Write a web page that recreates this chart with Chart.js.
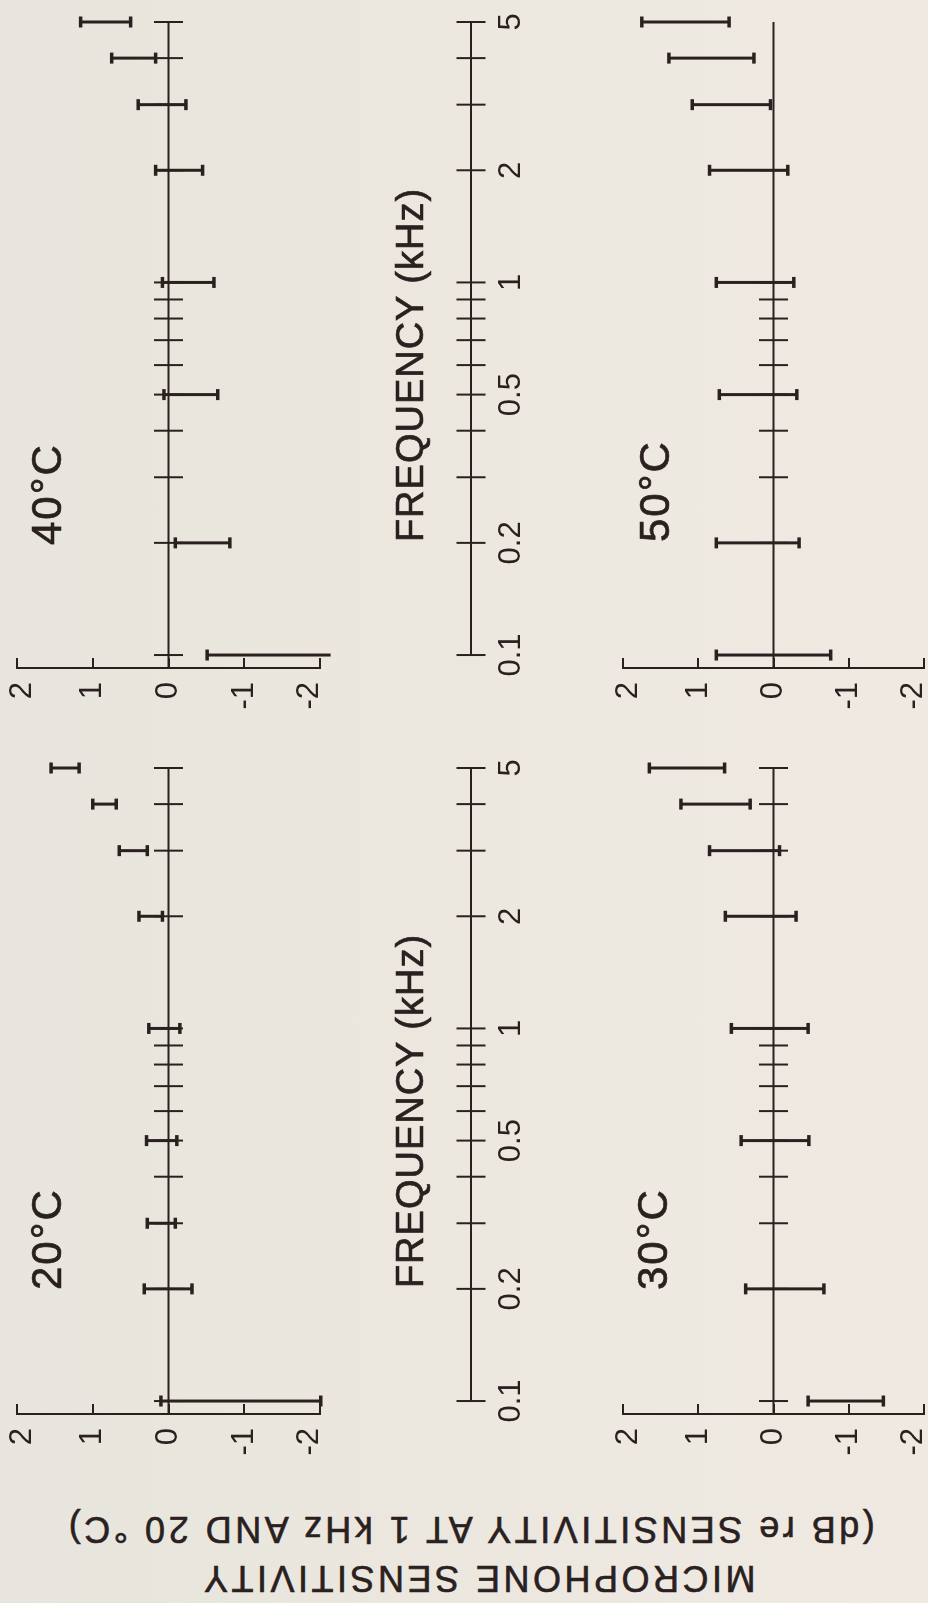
<!DOCTYPE html>
<html>
<head>
<meta charset="utf-8">
<title>Microphone sensitivity vs frequency</title>
<script src="https://cdn.jsdelivr.net/npm/chart.js@4.4.1/dist/chart.umd.min.js"></script>
<style>
  html, body { margin: 0; padding: 0; }
  body {
    width: 928px; height: 1603px; overflow: hidden; position: relative;
    background: linear-gradient(90deg, #e7e5dd 0%, #ebe7df 40%, #efe9e2 100%);
    font-family: 'Liberation Sans', Arial, sans-serif; color: #2a2020;
  }
  /* figure is laid out upright, then turned a quarter turn like the scan */
  #fig {
    position: absolute; left: 0; top: 0; width: 1603px; height: 928px;
    transform-origin: 0 0; transform: translate(0, 1603px) rotate(-90deg);
  }
  .box { position: absolute; }
  .lbl {
    position: absolute; font-size: 42px; line-height: 42px; letter-spacing: 2px;
    white-space: nowrap; -webkit-text-stroke: 0.7px #2a2020;
  }
  .ftitle {
    position: absolute; width: 420px; text-align: center; font-size: 38px; line-height: 38px;
    letter-spacing: 1px; white-space: nowrap; -webkit-text-stroke: 0.7px #2a2020;
  }
  #ylab {
    position: absolute; left: -414px; top: 414px; width: 928px; height: 100px;
    transform: rotate(-90deg); font-size: 36px; line-height: 49px; letter-spacing: 3.5px;
    text-align: center; white-space: nowrap; -webkit-text-stroke: 0.6px #2a2020;
  }
</style>
</head>
<body>
<div id="fig">
  <div id="ylab">
    <div style="padding-right:28px">MICROPHONE SENSITIVITY</div>
    <div style="padding-right:12px">(dB re SENSITIVITY AT 1 kHz AND 20 °C)</div>
  </div>

  <div class="box" style="left:89px;top:0px"><canvas id="c20" width="761" height="340"></canvas></div>
  <div class="box" style="left:835px;top:0px"><canvas id="c40" width="761" height="340"></canvas></div>
  <div class="box" style="left:89px;top:600px"><canvas id="c30" width="761" height="328"></canvas></div>
  <div class="box" style="left:835px;top:600px"><canvas id="c50" width="761" height="328"></canvas></div>
  <div class="box" style="left:89px;top:420px"><canvas id="ax0" width="761" height="110"></canvas></div>
  <div class="box" style="left:835px;top:420px"><canvas id="ax1" width="761" height="110"></canvas></div>

  <div class="ftitle" style="left:282px;top:391px">FREQUENCY (kHz)</div>
  <div class="ftitle" style="left:1028px;top:391px">FREQUENCY (kHz)</div>

  <div class="lbl" style="left:313px;top:26px">20°C</div>
  <div class="lbl" style="left:1058px;top:26px">40°C</div>
  <div class="lbl" style="left:313px;top:632px">30°C</div>
  <div class="lbl" style="left:1061px;top:634px">50°C</div>
</div>

<script>
// ── Data (kHz, dB) ─────────────────────────────────────────────
const FMIN = 0.0923;   // where the dB axis sits, just below 0.1 kHz
const FMAX = 5;

const FREQ_TICKS  = [0.1, 0.2, 0.3, 0.4, 0.5, 0.6, 0.7, 0.8, 0.9, 1, 2, 3, 4, 5];
const AXIS_LABELS = [0.1, 0.2, 0.5, 1, 2, 5];
const DB_TICKS    = [-2, -1, 0, 1, 2];

// 20 °C
const T20_FREQ = [0.1, 0.2, 0.3, 0.5, 1, 2, 3, 4, 5];
const T20_HI   = [0.10, 0.32, 0.28, 0.29, 0.26, 0.39, 0.65, 1.00, 1.55];
const T20_LO   = [-2.01, -0.31, -0.09, -0.11, -0.15, 0.08, 0.28, 0.69, 1.18];
const T20_TICKS = FREQ_TICKS;

// 40 °C
const T40_FREQ = [0.1, 0.2, 0.5, 1, 2, 3, 4, 5];
const T40_HI   = [-0.51, -0.09, 0.06, 0.08, 0.17, 0.40, 0.75, 1.16];
const T40_LO   = [-2.14, -0.81, -0.65, -0.60, -0.45, -0.23, 0.17, 0.50];
const T40_TICKS = FREQ_TICKS;

// 30 °C
const T30_FREQ = [0.1, 0.2, 0.5, 1, 2, 3, 4, 5];
const T30_HI   = [-0.46, 0.37, 0.43, 0.56, 0.64, 0.85, 1.23, 1.65];
const T30_LO   = [-1.46, -0.67, -0.47, -0.46, -0.30, -0.08, 0.31, 0.65];
const T30_TICKS = FREQ_TICKS;

// 50 °C
const T50_FREQ = [0.1, 0.2, 0.5, 1, 2, 3, 4, 5];
const T50_HI   = [0.76, 0.76, 0.72, 0.76, 0.85, 1.08, 1.39, 1.75];
const T50_LO   = [-0.76, -0.34, -0.31, -0.27, -0.19, 0.04, 0.26, 0.59];
const T50_TICKS = [0.1, 0.2, 0.3, 0.4, 0.5, 0.6, 0.7, 0.8, 0.9, 1, 2];

// ── Style ──────────────────────────────────────────────────────
const INK  = '#2a2020';
const FONT = "'Liberation Sans', Arial, sans-serif";

// ── Helpers ────────────────────────────────────────────────────
function zeroLine() {
  return {
    data: [{ x: FMIN, y: 0 }, { x: FMAX, y: 0 }],
    showLine: true, borderColor: INK, borderWidth: 2,
    pointRadius: 0, clip: false, order: 3,
  };
}

function freqMarks(ticks) {
  return {
    data: ticks.map((f) => ({ x: f, y: 0 })),
    showLine: false, pointStyle: 'line', pointRotation: 90,
    pointRadius: 14.5, pointBorderWidth: 2, pointBorderColor: INK,
    clip: false, order: 2,
  };
}

function errorBars(freqs, lo, hi) {
  return freqs.map((f, i) => ({
    data: [{ x: f, y: lo[i] }, { x: f, y: hi[i] }],
    showLine: true, borderColor: INK, borderWidth: 3,
    pointStyle: 'line', pointRadius: 5.5, pointBorderWidth: 3.5,
    pointBorderColor: INK, clip: false, order: 1,
  }));
}

// keep the plot box exactly where the padding puts it (no room for end labels)
const noEndPadding = (s) => { s.paddingTop = 0; s.paddingBottom = 0; s.paddingLeft = 0; s.paddingRight = 0; };

// end labels sit a little inside the axis ends, as on the drawing:
// a blank second line plus a small line height nudges them inward
const dbLabel = (v) => (v === 2 ? ['', '2'] : v === -2 ? ['-2', ''] : String(v));
const dbFont = (ctx) => {
  const v = ctx.tick ? ctx.tick.value : 0;
  const lh = v === 2 ? '10px' : v === -2 ? '22px' : 1.2;
  return { family: FONT, size: 31, lineHeight: lh };
};

function panel(id, freqs, lo, hi, ticks, padTop, padBottom) {
  new Chart(document.getElementById(id), {
    type: 'scatter',
    data: { datasets: [zeroLine(), freqMarks(ticks), ...errorBars(freqs, lo, hi)] },
    options: {
      responsive: false,
      animation: false,
      events: [],
      layout: { autoPadding: false, padding: { left: 0, right: 15, top: padTop, bottom: padBottom } },
      plugins: { legend: { display: false }, tooltip: { enabled: false } },
      scales: {
        x: { type: 'logarithmic', min: FMIN, max: FMAX, display: false },
        y: {
          min: -2, max: 2,
          afterBuildTicks: (s) => { s.ticks = DB_TICKS.map((v) => ({ value: v })); },
          afterFit: (s) => { s.width = 100; noEndPadding(s); },
          border: { display: true, color: INK, width: 2 },
          grid: { drawOnChartArea: false, drawTicks: true, tickLength: -10, color: INK, lineWidth: 2 },
          ticks: { color: INK, padding: 24, font: dbFont, callback: dbLabel },
        },
      },
    },
  });
}

function freqAxis(id) {
  new Chart(document.getElementById(id), {
    type: 'scatter',
    data: {
      datasets: [
        { data: [{ x: 0.1, y: 0 }, { x: FMAX, y: 0 }], showLine: true, borderColor: INK,
          borderWidth: 2, pointRadius: 0, clip: false },
        freqMarks(FREQ_TICKS),
      ],
    },
    options: {
      responsive: false,
      animation: false,
      events: [],
      layout: { autoPadding: false, padding: { left: 100, right: 15, top: 36, bottom: 4 } },
      plugins: { legend: { display: false }, tooltip: { enabled: false } },
      scales: {
        x: {
          type: 'logarithmic', min: FMIN, max: FMAX, position: 'bottom',
          afterBuildTicks: (s) => { s.ticks = AXIS_LABELS.map((v) => ({ value: v })); },
          afterFit: (s) => { s.height = 40; noEndPadding(s); },
          border: { display: false },
          grid: { display: false, drawTicks: false },
          ticks: {
            color: INK, padding: 7, autoSkip: false, maxRotation: 0, minRotation: 0,
            font: { family: FONT, size: 31 }, callback: (v) => String(v),
          },
        },
        y: { min: -1, max: 1, display: false },
      },
    },
  });
}

// ── Draw ───────────────────────────────────────────────────────
panel('c20', T20_FREQ, T20_LO, T20_HI, T20_TICKS, 17, 20);
panel('c40', T40_FREQ, T40_LO, T40_HI, T40_TICKS, 17, 20);
panel('c30', T30_FREQ, T30_LO, T30_HI, T30_TICKS, 23, 4);
panel('c50', T50_FREQ, T50_LO, T50_HI, T50_TICKS, 23, 4);
freqAxis('ax0');
freqAxis('ax1');
</script>
</body>
</html>
